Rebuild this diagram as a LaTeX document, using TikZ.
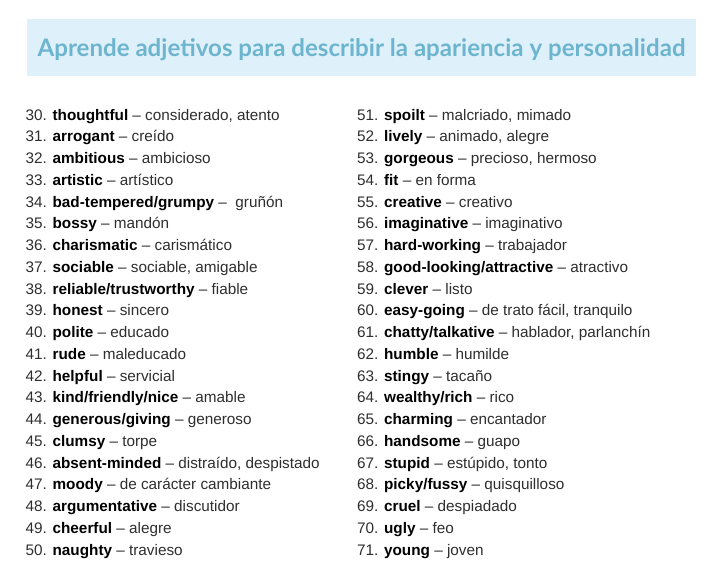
\documentclass[tikz,border=0pt]{standalone}
\usepackage{fontspec}
\setmainfont{Liberation Sans}
\newfontfamily\titlefont{Lato}
\usepackage{xcolor}
\definecolor{bandblue}{HTML}{DEF1FA}
\definecolor{titleblue}{HTML}{6DB5CF}
\definecolor{bodygray}{HTML}{2E2E2E}
\begin{document}
\begin{tikzpicture}[x=1pt,y=-1pt,
    band/.style={rectangle, fill=bandblue, minimum width=669pt, minimum height=57pt, inner sep=0pt},
    headline/.style={anchor=base, inner sep=0pt, text=titleblue, font=\titlefont\bfseries\fontsize{24.1}{27}\selectfont},
    wordrow/.style={anchor=base west, inner sep=0pt, text=bodygray, font=\fontsize{15.3}{18}\selectfont}]
            \useasboundingbox (0,0) rectangle (720,570);
            \node[band] (band) at (361,47.5) {};
            \node[headline] (title) at (361.5,56.5) {Aprende adjetivos para describir la apariencia y personalidad};

            \foreach \n/\en/\es [count=\i from 0] in {30/thoughtful/{considerado, atento}, 31/arrogant/creído,
                32/ambitious/ambicioso, 33/artistic/artístico, 34/{bad-tempered/grumpy}/{\ gruñón},
                35/bossy/mandón, 36/charismatic/carismático, 37/sociable/{sociable, amigable},
                38/{reliable/trustworthy}/fiable, 39/honest/sincero, 40/polite/educado,
                41/rude/maleducado, 42/helpful/servicial, 43/{kind/friendly/nice}/amable,
                44/{generous/giving}/generoso, 45/clumsy/torpe, 46/absent-minded/{distraído, despistado},
                47/moody/{de carácter cambiante}, 48/argumentative/discutidor, 49/cheerful/alegre,
                50/naughty/travieso}
                \node[wordrow] (w\n) at (25.5,120+21.75*\i) {\n. \textbf{\color{black}\en} -- \es};

            \foreach \n/\en/\es [count=\i from 0] in {51/spoilt/{malcriado, mimado}, 52/lively/{animado, alegre},
                53/gorgeous/{precioso, hermoso}, 54/fit/{en forma}, 55/creative/creativo,
                56/imaginative/imaginativo, 57/hard-working/trabajador, 58/{good-looking/attractive}/atractivo,
                59/clever/listo, 60/easy-going/{de trato fácil, tranquilo}, 61/{chatty/talkative}/{hablador, parlanchín},
                62/humble/humilde, 63/stingy/tacaño, 64/{wealthy/rich}/rico, 65/charming/encantador,
                66/handsome/guapo, 67/stupid/{estúpido, tonto}, 68/{picky/fussy}/quisquilloso,
                69/cruel/despiadado, 70/ugly/feo, 71/young/joven}
                \node[wordrow] (w\n) at (357,120+21.75*\i) {\n. \textbf{\color{black}\en} -- \es};

        \end{tikzpicture}
\end{document}
